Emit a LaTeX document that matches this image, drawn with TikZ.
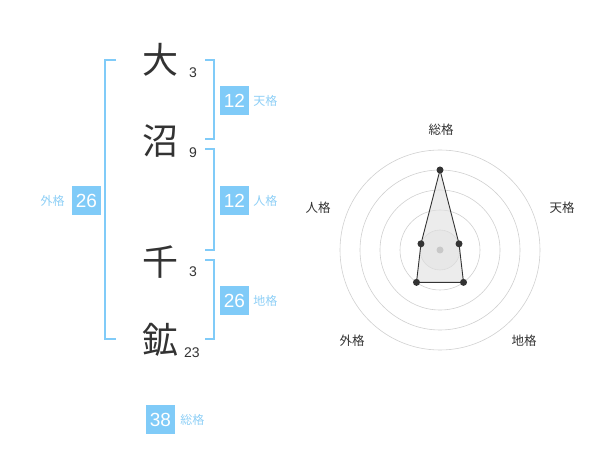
\documentclass[tikz,border=0pt]{standalone}
\usepackage{fontspec}
\setmainfont{Liberation Sans}
\newfontfamily\jpfont{Noto Sans CJK JP}
\usetikzlibrary{positioning}
\definecolor{skyblue}{HTML}{80CBF8}
\definecolor{skylabel}{HTML}{8ECFF6}
\definecolor{ink}{HTML}{333333}
\definecolor{ringgrey}{HTML}{D0D0D0}
\definecolor{hubgrey}{HTML}{C8C8C8}
\tikzset{
  kanji/.style={font=\jpfont\fontsize{36}{36}\selectfont, text=ink, inner sep=0pt},
  strokes/.style={font=\fontsize{14}{14}\selectfont, text=ink, inner sep=0pt},
  scorebox/.style={rectangle, fill=skyblue, text=white, minimum width=29pt,
                   minimum height=29pt, inner sep=0pt, font=\fontsize{19}{19}\selectfont},
  scorelbl/.style={font=\jpfont\fontsize{12}{12}\selectfont, text=skylabel, inner sep=0pt},
  brk/.style={draw=skyblue, line width=2pt},
  ring/.style={draw=ringgrey, line width=0.6pt},
  axislbl/.style={font=\jpfont\fontsize{12.5}{12.5}\selectfont, text=ink, inner sep=0pt},
  dot/.style={circle, fill=ink, inner sep=0pt, minimum size=7pt},
}
\begin{document}
\begin{tikzpicture}[x=1pt,y=-1pt]
  \useasboundingbox (0,0) rectangle (600,470);

  % name characters and stroke counts
  \node[kanji]   (c1) at (160,60)  {大};
  \node[strokes] (n1) at (193,73)  {3};
  \node[kanji]   (c2) at (160,141) {沼};
  \node[strokes] (n2) at (193,153) {9};
  \node[kanji]   (c3) at (160,262) {千};
  \node[strokes] (n3) at (193,272) {3};
  \node[kanji]   (c4) at (160,340) {鉱};
  \node[strokes] (n4) at (192,353) {23};

  % brackets
  \draw[brk] (116,60) -- (105,60) -- (105,339) -- (116,339);
  \draw[brk] (205,60) -- (214,60) -- (214,139) -- (205,139);
  \draw[brk] (205,149) -- (214,149) -- (214,250) -- (205,250);
  \draw[brk] (205,260) -- (214,260) -- (214,339) -- (205,339);

  % scores
  \node[scorebox] (ten) at (234.5,100.5) {12};
  \node[scorelbl, right=4pt of ten] (tenl) {天格};
  \node[scorebox] (jin) at (234.5,200.5) {12};
  \node[scorelbl, right=4pt of jin] (jinl) {人格};
  \node[scorebox] (chi) at (234.5,300.5) {26};
  \node[scorelbl, right=4pt of chi] (chil) {地格};
  \node[scorebox] (gai) at (86.5,200.5) {26};
  \node[scorelbl, left=7pt of gai] (gail) {外格};
  \node[scorebox] (sou) at (160.5,419.5) {38};
  \node[scorelbl, right=5pt of sou] (soul) {総格};

  % radar chart
  \begin{scope}[shift={(440,250)}, y=1pt]
    \fill[black!5] (0,0) circle[radius=20];
    \foreach \r in {20,40,60,80,100}
      \draw[ring] (0,0) circle[radius=\r];
    \coordinate (hub) at (0,0);
    \coordinate (vsou) at (90:80);
    \coordinate (vten) at (18:20);
    \coordinate (vchi) at (-54:40);
    \coordinate (vgai) at (-126:40);
    \coordinate (vjin) at (162:20);
    \filldraw[fill=black!12, fill opacity=0.6, draw=ink, line width=0.9pt]
      (vsou) -- (vten) -- (vchi) -- (vgai) -- (vjin) -- cycle;
    \fill[hubgrey] (hub) circle[radius=3.5];
    \foreach \v in {vsou,vten,vchi,vgai,vjin}
      \node[dot] at (\v) {};
    \node[axislbl] (asou) at (1,120)    {総格};
    \node[axislbl] (aten) at (122,42)   {天格};
    \node[axislbl] (achi) at (84,-91)   {地格};
    \node[axislbl] (agai) at (-88,-91)  {外格};
    \node[axislbl] (ajin) at (-122,42)  {人格};
  \end{scope}
\end{tikzpicture}
\end{document}
